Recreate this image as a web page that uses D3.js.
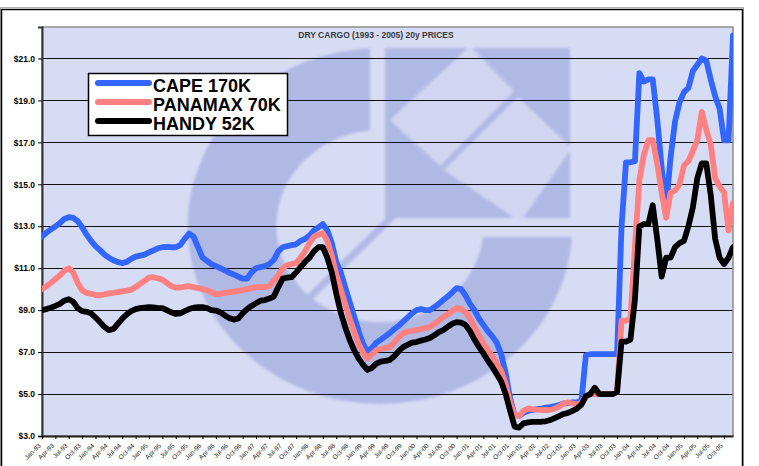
<!DOCTYPE html>
<html lang="en">
<head>
<meta charset="utf-8">
<title>Dry Cargo (1993 - 2005) 20y Prices</title>
<script src="https://d3js.org/d3.v7.min.js"></script>
<style>
  body { margin: 0; background: #fff; }
  svg { display: block; font-family: "Liberation Sans", Arial, sans-serif; }
</style>
</head>
<body>
<svg id="chart" width="759" height="466"></svg>
<script>
// categories: one point per month, Jan-93 .. Dec-05
var years = ["93","94","95","96","97","98","99","00","01","02","03","04","05"];
var monthNames = ["Jan","Feb","Mar","Apr","May","Jun","Jul","Aug","Sep","Oct","Nov","Dec"];
var labelMonths = ["Jan","Apr","Jul","Oct"];   // x tick labels every quarter
var yTicks = [3, 5, 7, 9, 11, 13, 15, 17, 19, 21];
var title = "DRY CARGO (1993 - 2005) 20y PRICES";

var seriesNames = ["CAPE 170K", "PANAMAX 70K", "HANDY 52K"];
var seriesColors = ["#3366ff", "#ff8080", "#000000"];

// $ millions (12 values per year)
var cape = [
  12.5, 12.7, 12.85, 13.0, 13.15, 13.35, 13.43, 13.4, 13.25, 12.95, 12.6, 12.3,
  12.05, 11.86, 11.65, 11.5, 11.38, 11.3, 11.24, 11.3, 11.45, 11.55, 11.6, 11.65,
  11.75, 11.85, 11.95, 12.0, 12.02, 12.0, 12.0, 12.1, 12.4, 12.65, 12.5, 12.0,
  11.5, 11.35, 11.2, 11.1, 11.0, 10.9, 10.78, 10.7, 10.6, 10.5, 10.5, 10.8,
  11.0, 11.05, 11.1, 11.2, 11.4, 11.8, 12.0, 12.05, 12.1, 12.14, 12.3, 12.4,
  12.55, 12.8, 12.95, 13.1, 12.8, 12.2, 11.3, 10.8, 10.1, 9.4, 8.7, 8.0,
  7.4, 7.0, 7.2, 7.45, 7.6, 7.75, 7.9, 8.1, 8.25, 8.45, 8.65, 8.85,
  9.0, 9.05, 9.0, 9.0, 9.15, 9.3, 9.48, 9.65, 9.85, 10.05, 10.0, 9.7,
  9.3, 9.0, 8.6, 8.3, 8.0, 7.75, 7.45, 6.9, 6.0, 4.8, 4.0, 3.95,
  4.1, 4.2, 4.24, 4.28, 4.3, 4.35, 4.38, 4.42, 4.48, 4.55, 4.57, 4.6,
  4.6, 4.7, 6.85, 6.9, 6.9, 6.9, 6.9, 6.9, 6.9, 6.9, 13.0, 16.05,
  16.05, 16.1, 20.3, 19.9, 20.0, 20.0, 18.1, 15.8, 13.9, 16.3, 18.0, 18.9,
  19.4, 19.6, 20.4, 20.7, 21.0, 20.9, 20.0, 19.2, 18.6, 17.1, 17.1, 22.1
];
var panamax = [
  10.0, 10.15, 10.3, 10.48, 10.65, 10.88, 11.0, 10.8, 10.3, 9.95, 9.82, 9.78,
  9.72, 9.71, 9.75, 9.8, 9.82, 9.86, 9.9, 9.93, 9.97, 10.1, 10.25, 10.4,
  10.55, 10.57, 10.52, 10.45, 10.3, 10.15, 10.07, 10.08, 10.12, 10.14, 10.1, 10.05,
  10.0, 9.95, 9.85, 9.77, 9.78, 9.82, 9.86, 9.88, 9.92, 9.95, 10.0, 10.05,
  10.1, 10.1, 10.1, 10.15, 10.4, 10.65, 11.0, 11.14, 11.2, 11.24, 11.5, 11.8,
  12.2, 12.5, 12.6, 12.67, 12.3, 11.6, 10.7, 10.0, 9.3, 8.6, 8.0, 7.4,
  7.0, 6.7, 6.9, 7.1, 7.15, 7.2, 7.24, 7.45, 7.7, 7.9, 7.97, 8.02,
  8.05, 8.1, 8.15, 8.2, 8.35, 8.5, 8.67, 8.8, 8.95, 9.1, 9.05, 8.9,
  8.6, 8.2, 7.8, 7.4, 7.1, 6.8, 6.45, 6.1, 5.5, 4.6, 4.0, 3.95,
  4.2, 4.3, 4.28, 4.26, 4.25, 4.24, 4.25, 4.3, 4.4, 4.55, 4.6, 4.55,
  4.5, 4.6, 4.9, 5.0, 5.0, 5.0, 5.0, 5.0, 5.0, 5.1, 8.5, 8.5,
  8.6, 12.0, 15.2, 16.4, 17.1, 17.1, 16.0, 14.6, 13.4, 14.6, 14.7, 15.0,
  15.9, 16.1, 16.6, 17.1, 18.45, 17.6, 16.9, 15.3, 14.9, 14.6, 12.8, 14.1
];
var handy = [
  9.0, 9.05, 9.12, 9.2, 9.3, 9.45, 9.52, 9.4, 9.1, 8.95, 8.92, 8.85,
  8.65, 8.43, 8.2, 8.05, 8.1, 8.35, 8.6, 8.8, 8.95, 9.05, 9.1, 9.12,
  9.14, 9.13, 9.1, 9.1, 9.0, 8.9, 8.82, 8.85, 8.95, 9.05, 9.12, 9.14,
  9.14, 9.1, 9.0, 8.98, 8.9, 8.75, 8.62, 8.55, 8.6, 8.85, 9.05, 9.2,
  9.33, 9.45, 9.48, 9.55, 9.65, 10.1, 10.5, 10.55, 10.57, 10.8, 11.05, 11.3,
  11.5, 11.8, 12.0, 12.0, 11.5, 10.8, 9.8, 8.9, 8.2, 7.6, 7.1, 6.7,
  6.4, 6.15, 6.25, 6.45, 6.55, 6.58, 6.62, 6.8, 7.05, 7.24, 7.35, 7.45,
  7.48, 7.55, 7.6, 7.67, 7.8, 7.95, 8.05, 8.2, 8.35, 8.43, 8.4, 8.3,
  8.0, 7.6, 7.25, 6.95, 6.6, 6.3, 5.95, 5.6, 5.0, 4.2, 3.45, 3.4,
  3.6, 3.65, 3.67, 3.67, 3.68, 3.7, 3.76, 3.85, 3.95, 4.05, 4.1, 4.2,
  4.3, 4.5, 4.9, 5.0, 5.3, 5.0, 5.0, 5.0, 5.0, 5.1, 7.5, 7.5,
  7.6, 9.5, 13.0, 13.1, 13.1, 14.0, 12.4, 10.6, 11.5, 11.5, 12.0, 12.2,
  12.3, 13.0, 13.9, 15.3, 16.0, 16.0, 14.5, 12.4, 11.5, 11.2, 11.5, 12.0
];

var months = [];
years.forEach(function(yy) {
  monthNames.forEach(function(m) { months.push(m + "-" + yy); });
});
var series = [cape, panamax, handy];

var svg = d3.select("#chart");
var plotL = 42, plotR = 733, plotT = 27, plotB = 436;

var x = d3.scalePoint().domain(months).range([plotL, plotR]);
var y = d3.scaleLinear().domain([3, 22.5]).range([plotB, plotT]);

// outer chart frame
svg.append("rect").attr("x", 0.5).attr("y", 7.5).attr("width", 743).attr("height", 470)
  .attr("fill", "none").attr("stroke", "#b0b0b0").attr("stroke-width", 1);
svg.append("rect").attr("x", 1.5).attr("y", 9.5).attr("width", 741).attr("height", 470)
  .attr("fill", "none").attr("stroke", "#000").attr("stroke-width", 1.5);

var defs = svg.append("defs");
defs.append("clipPath").attr("id", "plotClip")
  .append("rect").attr("x", plotL).attr("y", plotT).attr("width", plotR - plotL).attr("height", plotB - plotT);
defs.append("clipPath").attr("id", "ringCut")
  .append("path").attr("d", "M0,0H370V237H759V466H0Z");
defs.append("filter").attr("id", "soft").attr("x", "-5%").attr("y", "-5%").attr("width", "110%").attr("height", "110%")
  .append("feGaussianBlur").attr("stdDeviation", 1.6);

// plot background
svg.append("rect").attr("x", plotL).attr("y", plotT).attr("width", plotR - plotL).attr("height", plotB - plotT)
  .attr("fill", "#d7dcf5");

// faded logo in the background
var wmDark = "#b0b8e4", wmLight = "#d0d6f2";
var wm = svg.append("g").attr("clip-path", "url(#plotClip)")
  .append("g").attr("filter", "url(#soft)");
wm.append("g").attr("clip-path", "url(#ringCut)")
  .append("path")
  .attr("transform", "translate(380,226) scale(1.08,1)")
  .attr("d", d3.arc().innerRadius(96).outerRadius(178).startAngle(0).endAngle(2 * Math.PI)())
  .attr("fill", wmDark);
wm.append("rect").attr("x", 385).attr("y", 48).attr("width", 185).attr("height", 170).attr("fill", wmDark);
wm.append("path").attr("d", "M390,120L470,46L514,91L440,166Z").attr("fill", wmLight);
wm.append("path").attr("d", "M444,170L518,97L572,148L520,222Z").attr("fill", wmLight);
wm.append("line").attr("x1", 308).attr("y1", 299).attr("x2", 442).attr("y2", 168)
  .attr("stroke", wmDark).attr("stroke-width", 7);

// grid lines
svg.append("g").selectAll("line").data(yTicks.slice(1)).enter().append("line")
  .attr("x1", plotL).attr("x2", plotR)
  .attr("y1", function(d) { return Math.round(y(d)) + 0.5; })
  .attr("y2", function(d) { return Math.round(y(d)) + 0.5; })
  .attr("stroke", "#111").attr("stroke-width", 1);

// plot border
svg.append("rect").attr("x", plotL).attr("y", plotT).attr("width", plotR - plotL).attr("height", plotB - plotT)
  .attr("fill", "none").attr("stroke", "#8c8c8c").attr("stroke-width", 1.5);

// y axis
var yAxis = svg.append("g")
  .attr("transform", "translate(" + plotL + ",0)")
  .call(d3.axisLeft(y).tickValues(yTicks).tickSize(4).tickPadding(3)
    .tickFormat(function(d) { return "$" + d3.format(".1f")(d); }));
yAxis.select(".domain").attr("stroke", "#333").attr("stroke-width", 2);
yAxis.selectAll("text").attr("font-size", "8.5px").attr("font-weight", "bold").attr("fill", "#000")
  .attr("font-family", "Liberation Sans, Arial, sans-serif");

// x axis
var xTickVals = months.filter(function(m) { return labelMonths.indexOf(m.slice(0, 3)) >= 0; });
var xAxis = svg.append("g")
  .attr("transform", "translate(0," + plotB + ")")
  .call(d3.axisBottom(x).tickValues(xTickVals).tickSize(3).tickSizeOuter(0));
xAxis.select(".domain").attr("stroke", "#222").attr("stroke-width", 2);
xAxis.selectAll("text")
  .attr("font-size", "6.5px").attr("fill", "#222")
  .attr("font-family", "Liberation Sans, Arial, sans-serif")
  .style("text-anchor", "end")
  .attr("x", -8).attr("y", 4).attr("dy", "0.35em")
  .attr("transform", "rotate(-45)");

// title
svg.append("text").attr("x", 376).attr("y", 38).attr("text-anchor", "middle")
  .attr("font-size", "8.5px").attr("font-weight", "bold").attr("fill", "#3a3a3a")
  .text(title);

// series lines
var line = d3.line()
  .x(function(d, i) { return x(months[i]); })
  .y(function(d) { return y(d); });

svg.append("g").attr("clip-path", "url(#plotClip)")
  .selectAll("path").data(series).enter().append("path")
  .attr("d", line)
  .attr("fill", "none")
  .attr("stroke", function(d, i) { return seriesColors[i]; })
  .attr("stroke-width", 5.8)
  .attr("stroke-linejoin", "round")
  .attr("stroke-linecap", "round");

// legend
var legend = svg.append("g");
legend.append("rect").attr("x", 88.5).attr("y", 73.5).attr("width", 199).attr("height", 62)
  .attr("fill", "#fff").attr("stroke", "#000").attr("stroke-width", 1.5);
var rowY = [83, 102, 121];
seriesNames.forEach(function(name, i) {
  legend.append("line").attr("x1", 98).attr("x2", 149).attr("y1", rowY[i]).attr("y2", rowY[i])
    .attr("stroke", seriesColors[i]).attr("stroke-width", 6).attr("stroke-linecap", "round");
  legend.append("text").attr("x", 153).attr("y", rowY[i] + 8.7)
    .attr("font-size", "18px").attr("font-weight", "bold").attr("fill", "#000")
    .text(name);
});
</script>
</body>
</html>
